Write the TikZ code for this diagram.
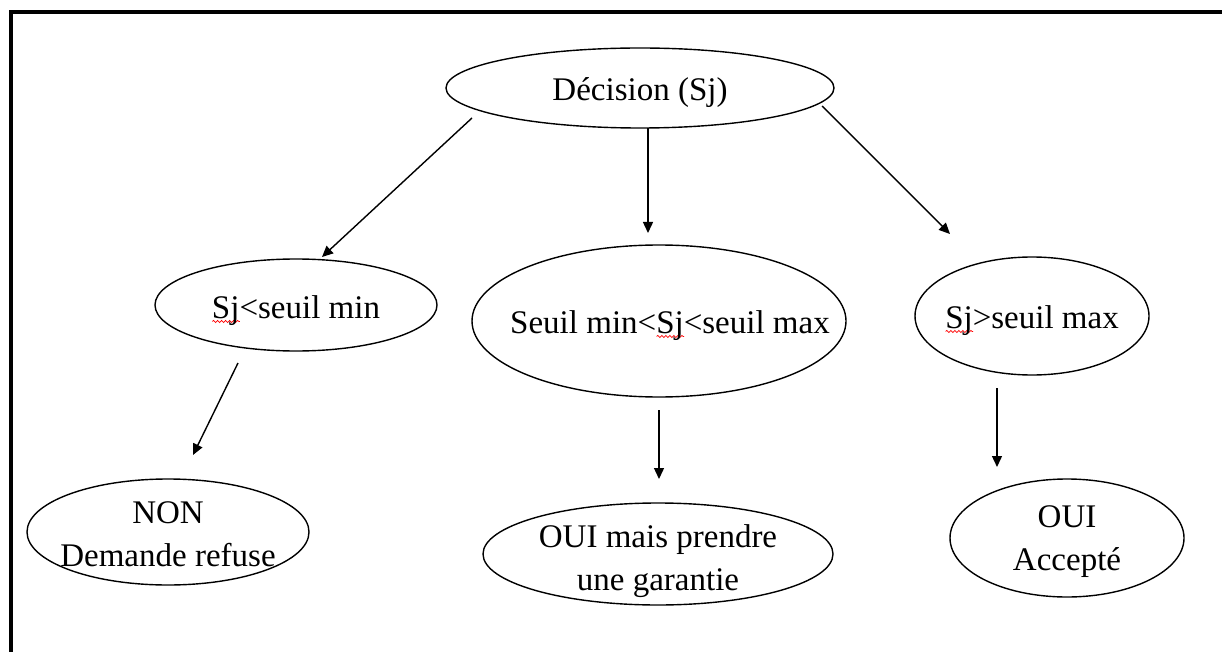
\documentclass[tikz,border=0pt]{standalone}
\usepackage{fontspec}
\setmainfont{Liberation Serif}
\usetikzlibrary{shapes.geometric,arrows.meta,decorations.pathmorphing}
\newlength\sjlen
\newcommand\sjw{\settowidth\sjlen{Sj}\rlap{\smash{\raisebox{-4pt}{\tikz\draw[red,line width=0.7pt,decorate,decoration={snake,amplitude=1.1pt,segment length=4pt}] (0pt,0pt) -- (\sjlen,0pt);}}}Sj}
\tikzset{
  ell/.style={draw, ellipse, line width=1.4pt, inner sep=0pt},
  lbl/.style={font=\fontsize{33}{43}\selectfont, align=center, inner sep=0pt},
  arr/.style={line width=1.4pt, -{Triangle[length=11pt,width=10pt]}},
  frame/.style={line width=4pt}
}
\begin{document}
\begin{tikzpicture}[x=1pt,y=-1pt]
\useasboundingbox (0,0) rectangle (1222,652);
\draw[frame] (10.5,652) -- (10.5,12) -- (1222,12);

\node[ell, minimum width=388pt, minimum height=80pt,
  label={[lbl,yshift=-5pt]center:{D\'ecision (Sj)}}] (top) at (640,88) {};
\node[ell, minimum width=282pt, minimum height=92pt,
  label={[lbl,yshift=-6pt]center:{\sjw<seuil min}}] (lo) at (296,305) {};
\node[ell, minimum width=374pt, minimum height=152pt,
  label={[lbl,xshift=11pt,yshift=-5pt]center:{Seuil min<\sjw<seuil max}}] (mid) at (659,321) {};
\node[ell, minimum width=234pt, minimum height=118pt,
  label={[lbl,yshift=-5pt]center:{\sjw>seuil max}}] (hi) at (1032,316) {};
\node[ell, minimum width=282pt, minimum height=106pt,
  label={[lbl,yshift=-2pt]center:{NON\\Demande refuse}}] (non) at (168,532) {};
\node[ell, minimum width=350pt, minimum height=102pt,
  label={[lbl,yshift=-7pt]center:{OUI mais prendre\\une garantie}}] (garantie) at (658,554) {};
\node[ell, minimum width=234pt, minimum height=118pt,
  label={[lbl,yshift=-4pt]center:{OUI\\Accept\'e}}] (oui) at (1067,538) {};

\coordinate (a1) at (472,118); \coordinate (a2) at (322,257);
\coordinate (b1) at (648,128); \coordinate (b2) at (648,233);
\coordinate (c1) at (822,106); \coordinate (c2) at (950,234);
\coordinate (d1) at (238,363); \coordinate (d2) at (193,455);
\coordinate (e1) at (659,410); \coordinate (e2) at (659,479);
\coordinate (f1) at (997,388); \coordinate (f2) at (997,467);

\draw[arr] (a1) -- (a2);
\draw[arr] (b1) -- (b2);
\draw[arr] (c1) -- (c2);
\draw[arr] (d1) -- (d2);
\draw[arr] (e1) -- (e2);
\draw[arr] (f1) -- (f2);
\end{tikzpicture}
\end{document}
